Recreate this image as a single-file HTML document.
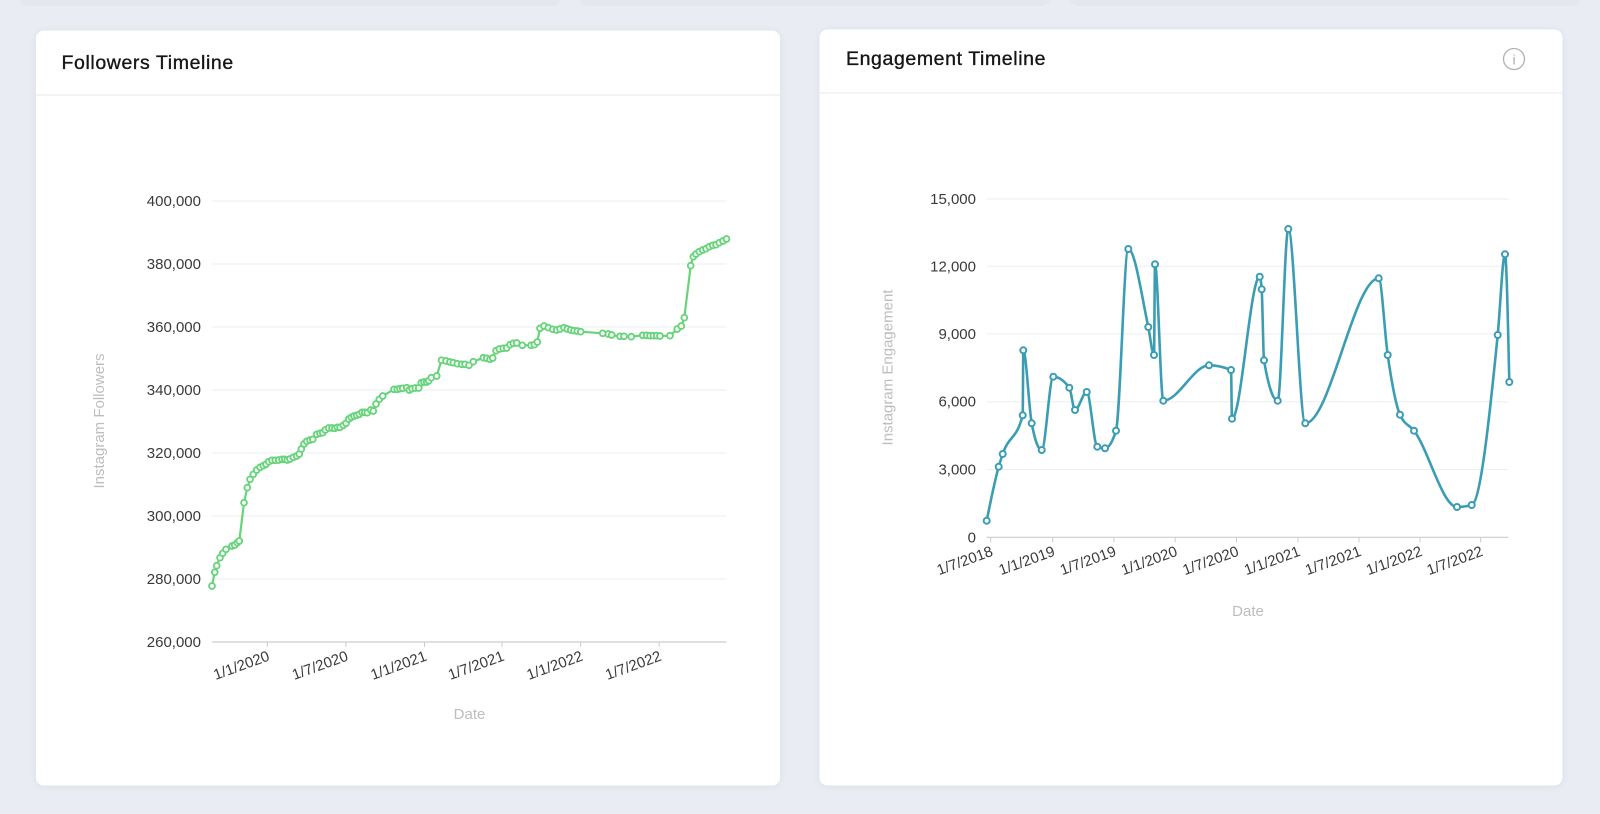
<!DOCTYPE html>
<html>
<head>
<meta charset="utf-8">
<style>
  html,body{margin:0;padding:0;background:#e9ecf3;}
  body{width:1600px;height:814px;overflow:hidden;position:relative;font-family:"Liberation Sans",Arial,sans-serif;}
  svg{position:absolute;left:0;top:0;}
  .tick{font-family:"Liberation Sans",Arial,sans-serif;font-size:15px;fill:#3a3a3a;}
  .axt{font-family:"Liberation Sans",Arial,sans-serif;font-size:15px;fill:#bdbdbd;}
  .title{font-family:"Liberation Sans",Arial,sans-serif;font-size:19.5px;fill:#151515;stroke:#151515;stroke-width:0.35px;letter-spacing:0.6px;}
</style>
</head>
<body>
<svg width="1600" height="814" viewBox="0 0 1600 814" xmlns="http://www.w3.org/2000/svg">
  <defs>
    <filter id="sh" x="-5%" y="-5%" width="110%" height="110%">
      <feGaussianBlur in="SourceAlpha" stdDeviation="4"/>
      <feOffset dy="1"/>
      <feComponentTransfer><feFuncA type="linear" slope="0.06"/></feComponentTransfer>
      <feMerge><feMergeNode/><feMergeNode in="SourceGraphic"/></feMerge>
    </filter>
  </defs>

  <!-- faint cards at top edge -->
  <rect x="20" y="-20" width="540" height="26" rx="8" fill="#e4e7ee"/>
  <rect x="580" y="-20" width="470" height="26" rx="8" fill="#e4e7ee"/>
  <rect x="1070" y="-20" width="510" height="26" rx="8" fill="#e4e7ee"/>

  <!-- Cards -->
  <rect x="36" y="30.5" width="744" height="755" rx="8" fill="#ffffff" filter="url(#sh)"/>
  <rect x="819.5" y="29.5" width="743" height="756" rx="8" fill="#ffffff" filter="url(#sh)"/>

  <!-- Headers -->
  <text class="title" x="61.5" y="69">Followers Timeline</text>
  <line x1="36" y1="95" x2="780" y2="95" stroke="#eef0f4" stroke-width="1.5"/>
  <text class="title" x="846" y="65">Engagement Timeline</text>
  <line x1="819.5" y1="93" x2="1562.5" y2="93" stroke="#eef0f4" stroke-width="1.5"/>
  <circle cx="1514" cy="59" r="10.5" fill="none" stroke="#b0b0b0" stroke-width="1.3"/>
  <text x="1514" y="64.5" text-anchor="middle" font-family="Liberation Sans, Arial, sans-serif" font-size="14" fill="#a8a8a8">i</text>

  <!-- ================= LEFT CHART ================= -->
  <g stroke="#eceef3" stroke-width="1">
    <line x1="212" y1="201" x2="726.5" y2="201"/>
    <line x1="212" y1="264" x2="726.5" y2="264"/>
    <line x1="212" y1="327" x2="726.5" y2="327"/>
    <line x1="212" y1="390" x2="726.5" y2="390"/>
    <line x1="212" y1="453" x2="726.5" y2="453"/>
    <line x1="212" y1="516" x2="726.5" y2="516"/>
    <line x1="212" y1="579" x2="726.5" y2="579"/>
  </g>
  <line x1="212" y1="642" x2="726.5" y2="642" stroke="#cccccc" stroke-width="1.2"/>
  <g stroke="#cccccc" stroke-width="1">
    <line x1="267.3" y1="642" x2="267.3" y2="647"/>
    <line x1="345.9" y1="642" x2="345.9" y2="647"/>
    <line x1="424.5" y1="642" x2="424.5" y2="647"/>
    <line x1="502" y1="642" x2="502" y2="647"/>
    <line x1="580.6" y1="642" x2="580.6" y2="647"/>
    <line x1="659.2" y1="642" x2="659.2" y2="647"/>
  </g>
  <g class="tick" text-anchor="end">
    <text x="201" y="206">400,000</text>
    <text x="201" y="269">380,000</text>
    <text x="201" y="332">360,000</text>
    <text x="201" y="395">340,000</text>
    <text x="201" y="458">320,000</text>
    <text x="201" y="521">300,000</text>
    <text x="201" y="584">280,000</text>
    <text x="201" y="647">260,000</text>
  </g>
  <g class="tick" text-anchor="end">
    <text transform="translate(270.5,660) rotate(-20)">1/1/2020</text>
    <text transform="translate(349.1,660) rotate(-20)">1/7/2020</text>
    <text transform="translate(427.7,660) rotate(-20)">1/1/2021</text>
    <text transform="translate(505.2,660) rotate(-20)">1/7/2021</text>
    <text transform="translate(583.8,660) rotate(-20)">1/1/2022</text>
    <text transform="translate(662.4,660) rotate(-20)">1/7/2022</text>
  </g>
  <text class="axt" x="469.5" y="719" text-anchor="middle">Date</text>
  <text class="axt" transform="translate(104,421) rotate(-90)" text-anchor="middle">Instagram Followers</text>

  <g id="leftSeries"></g>

  <!-- ================= RIGHT CHART ================= -->
  <g stroke="#eceef3" stroke-width="1">
    <line x1="986.7" y1="199" x2="1508.3" y2="199"/>
    <line x1="986.7" y1="266.3" x2="1508.3" y2="266.3"/>
    <line x1="986.7" y1="333.9" x2="1508.3" y2="333.9"/>
    <line x1="986.7" y1="401.7" x2="1508.3" y2="401.7"/>
    <line x1="986.7" y1="469.5" x2="1508.3" y2="469.5"/>
  </g>
  <line x1="986.7" y1="537.3" x2="1508.3" y2="537.3" stroke="#cccccc" stroke-width="1.2"/>
  <g stroke="#cccccc" stroke-width="1">
    <line x1="990.7" y1="537.3" x2="990.7" y2="542.5"/>
    <line x1="1052.7" y1="537.3" x2="1052.7" y2="542.5"/>
    <line x1="1113.9" y1="537.3" x2="1113.9" y2="542.5"/>
    <line x1="1175.1" y1="537.3" x2="1175.1" y2="542.5"/>
    <line x1="1236.5" y1="537.3" x2="1236.5" y2="542.5"/>
    <line x1="1298" y1="537.3" x2="1298" y2="542.5"/>
    <line x1="1359" y1="537.3" x2="1359" y2="542.5"/>
    <line x1="1420" y1="537.3" x2="1420" y2="542.5"/>
    <line x1="1480.7" y1="537.3" x2="1480.7" y2="542.5"/>
  </g>
  <g class="tick" text-anchor="end">
    <text x="976" y="204">15,000</text>
    <text x="976" y="271.3">12,000</text>
    <text x="976" y="338.9">9,000</text>
    <text x="976" y="406.7">6,000</text>
    <text x="976" y="474.5">3,000</text>
    <text x="976" y="542.3">0</text>
  </g>
  <g class="tick" text-anchor="end">
    <text transform="translate(993.9,555.3) rotate(-20)">1/7/2018</text>
    <text transform="translate(1055.9,555.3) rotate(-20)">1/1/2019</text>
    <text transform="translate(1117.1,555.3) rotate(-20)">1/7/2019</text>
    <text transform="translate(1178.3,555.3) rotate(-20)">1/1/2020</text>
    <text transform="translate(1239.7,555.3) rotate(-20)">1/7/2020</text>
    <text transform="translate(1301.2,555.3) rotate(-20)">1/1/2021</text>
    <text transform="translate(1362.2,555.3) rotate(-20)">1/7/2021</text>
    <text transform="translate(1423.2,555.3) rotate(-20)">1/1/2022</text>
    <text transform="translate(1483.9,555.3) rotate(-20)">1/7/2022</text>
  </g>
  <text class="axt" x="1248" y="616" text-anchor="middle">Date</text>
  <text class="axt" transform="translate(892.5,367.5) rotate(-90)" text-anchor="middle">Instagram Engagement</text>

  <path id="rightPath" d="" fill="none" stroke="#3b9db4" stroke-width="2.6" stroke-linejoin="round"/>
  <g id="rightSeries"></g>
</svg>

<script>
(function(){
  var NS="http://www.w3.org/2000/svg";
  var L=[[212,586],[214.7,572.3],[216.7,565.7],[220,557.7],[222.7,553.3],[226,549.3],[232,546],[234.7,545],[237.3,542.7],[239.3,541],[244,502.7],[247.3,487.7],[250,479.3],[253.3,474.3],[256.7,470],[260,467.3],[263.3,465.7],[266,464.3],[268.7,461.7],[272,460.3],[275.3,460.3],[278.7,460],[282,459.3],[284.7,459.3],[287.3,460],[290,459],[293.3,457.3],[296.7,456],[299.3,454],[301.3,449],[304,444],[306.7,441.3],[310,440],[312.7,439.3],[316.7,434.3],[320,433.3],[322.7,432.7],[325.3,430],[328.7,428],[332,428],[334.7,428.3],[337.3,427.3],[340,427.3],[343.3,425.3],[346,423.3],[348.7,419],[351.3,417.3],[354,416],[356.7,415.3],[359.3,414.3],[362,412.3],[364.7,412.3],[367.3,412.7],[370.7,410],[373.3,411],[376,404],[379.3,399.3],[382.7,396],[394,389.3],[397.3,389.3],[400,388.7],[402.7,388.3],[406.7,387.7],[409.3,390],[412,388.7],[415.3,388],[418.7,388],[421.3,382.7],[424,382],[426.7,382],[428.7,380.7],[431.3,377.7],[436.7,376],[441.5,360.2],[446,361],[450,362],[453.3,362.7],[457.3,363.7],[461.7,364.3],[465,364.3],[469,365.3],[473.3,361.7],[483.3,357.7],[486.7,358.3],[490,359.3],[492.7,358],[496,350.7],[499.3,349],[503.3,348.3],[506.7,348],[510,344.7],[513.3,343.3],[516.7,343],[522.3,345.3],[531,345.3],[534.3,344.7],[537.3,342],[540,328.3],[544,326],[548.3,327.7],[552.7,329.3],[556.7,330],[560,329],[564,327.7],[567.3,329],[570.7,330],[574,330.7],[577.3,331],[580.7,331.7],[602.7,333.3],[608.3,334],[611.7,335],[620,336.3],[624,336.3],[631.3,336.7],[642.7,335.3],[646.7,335.3],[650,335.7],[653.3,335.7],[656.7,335.7],[660,336],[670,335.7],[677.3,329],[681.3,326],[684.3,317.7],[690.7,265.7],[693.3,256.7],[696,254],[699.3,251.7],[702.7,250],[706,248.7],[709.3,246.7],[712.7,245.3],[716,244.7],[719.3,242.7],[723,241],[726.5,239]];
  var R=[[986.7,520.7],[998.7,466.7],[1002.7,454],[1022.7,415.3],[1023.3,350.3],[1031.7,423.3],[1041.7,450],[1053.3,376.7],[1069.3,387.7],[1075,410],[1086.7,392],[1097.3,446.7],[1105,448.3],[1116,430.7],[1128.3,249],[1148.3,327],[1154,355],[1155,264.3],[1163.3,400.7],[1209,365.3],[1231,370],[1232,418.7],[1259.7,276.7],[1261.7,289.3],[1264,360.3],[1277.7,400.7],[1288.3,229],[1305.3,423.3],[1378.7,278.3],[1387.7,355],[1400,414.7],[1414,430.7],[1457,507],[1471.7,505],[1497.7,335],[1505,254.3],[1509.3,382]];

  function el(n,a,p){var e=document.createElementNS(NS,n);for(var k in a)e.setAttribute(k,a[k]);p.appendChild(e);return e;}

  var lg=document.getElementById("leftSeries");
  el("polyline",{points:L.map(function(p){return p.join(",");}).join(" "),fill:"none",stroke:"#67d47b","stroke-width":"2.2","stroke-linejoin":"round"},lg);
  L.forEach(function(p){el("circle",{cx:p[0],cy:p[1],r:"2.9",fill:"#fff",stroke:"#67d47b","stroke-width":"1.9"},lg);});

  function sign(x){return x<0?-1:1;}
  function slope3(p0,p1,p2){
    var h0=p1[0]-p0[0],h1=p2[0]-p1[0];
    var s0=(p1[1]-p0[1])/(h0||(h1<0&&-0)),s1=(p2[1]-p1[1])/(h1||(h0<0&&-0));
    var p=(s0*h1+s1*h0)/(h0+h1);
    var r=(sign(s0)+sign(s1))*Math.min(Math.abs(s0),Math.abs(s1),0.5*Math.abs(p));
    return isFinite(r)?r:0;
  }
  function slope2(p0,p1,t){var h=p1[0]-p0[0];return h?(3*(p1[1]-p0[1])/h-t)/2:t;}
  var n=R.length,m=new Array(n);
  for(var i=1;i<n-1;i++)m[i]=slope3(R[i-1],R[i],R[i+1]);
  m[0]=slope2(R[0],R[1],m[1]);
  m[n-1]=slope2(R[n-2],R[n-1],m[n-2]);
  var d="M"+R[0][0]+","+R[0][1];
  for(i=0;i<n-1;i++){
    var a=R[i],b=R[i+1],dx=(b[0]-a[0])/3;
    d+="C"+(a[0]+dx)+","+(a[1]+dx*m[i])+","+(b[0]-dx)+","+(b[1]-dx*m[i+1])+","+b[0]+","+b[1];
  }
  document.getElementById("rightPath").setAttribute("d",d);
  var rg=document.getElementById("rightSeries");
  R.forEach(function(p){el("circle",{cx:p[0],cy:p[1],r:"3",fill:"#fff",stroke:"#3b9db4","stroke-width":"2"},rg);});
})();
</script>
</body>
</html>
